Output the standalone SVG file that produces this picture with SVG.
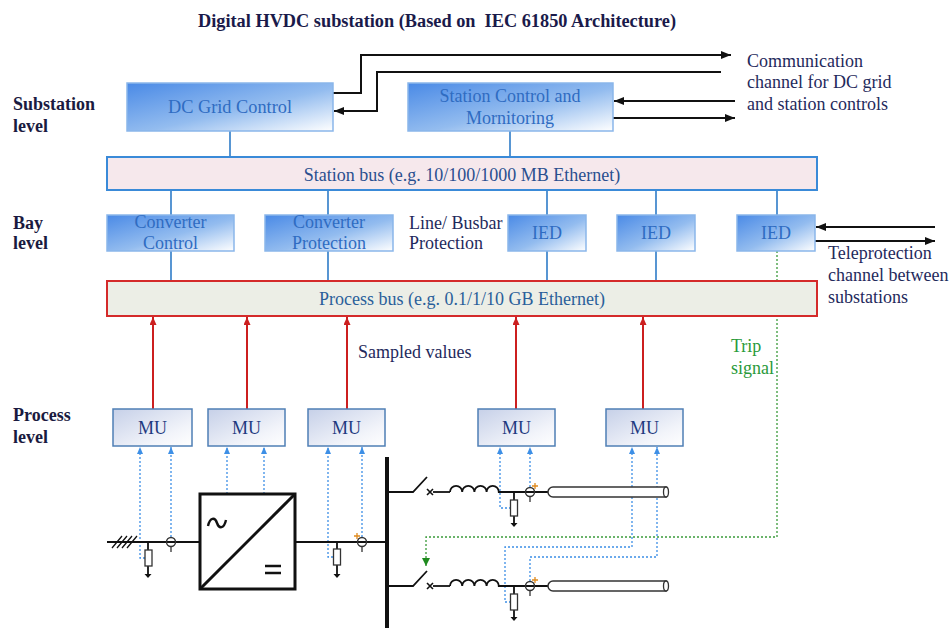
<svg xmlns="http://www.w3.org/2000/svg" width="950" height="628" viewBox="0 0 950 628">
<defs>
<linearGradient id="gBlue" x1="0" y1="0" x2="1" y2="1">
<stop offset="0" stop-color="#4a8ae6"/>
<stop offset="0.55" stop-color="#93bcef"/>
<stop offset="1" stop-color="#ffffff"/>
</linearGradient>
<linearGradient id="gMU" x1="0" y1="0" x2="1" y2="1">
<stop offset="0" stop-color="#c6d0e8"/>
<stop offset="0.7" stop-color="#f2f4fa"/>
<stop offset="1" stop-color="#ffffff"/>
</linearGradient>
<marker id="aBlack" viewBox="0 0 10 8" refX="10" refY="4" markerWidth="10" markerHeight="8" markerUnits="userSpaceOnUse" orient="auto"><path d="M0,0 L10,4 L0,8 z" fill="#111"/></marker>
<marker id="aRed" viewBox="0 0 8 7" refX="8" refY="3.5" markerWidth="8" markerHeight="7" markerUnits="userSpaceOnUse" orient="auto"><path d="M0,0 L8,3.5 L0,7 z" fill="#cc1f1f"/></marker>
<marker id="aBlue" viewBox="0 0 7 6" refX="7" refY="3" markerWidth="7" markerHeight="6" markerUnits="userSpaceOnUse" orient="auto"><path d="M0,0 L7,3 L0,6 z" fill="#3d8fe6"/></marker>
<marker id="aGreen" viewBox="0 0 8 8" refX="8" refY="4" markerWidth="8" markerHeight="8" markerUnits="userSpaceOnUse" orient="auto"><path d="M0,0 L8,4 L0,8 z" fill="#1f8a1f"/></marker>
</defs>
<style>
text{font-family:"Liberation Serif","Times New Roman",serif;font-size:18px}
.lvl{font-weight:bold;fill:#1a1a40}
.note{fill:#1f2a5c}
.bt{fill:#2f6cc2;text-anchor:middle}
.mt{fill:#1e3a80;text-anchor:middle}
.bx{fill:url(#gBlue);stroke:#8ab6ea;stroke-width:1.5}
.mu{fill:url(#gMU);stroke:#4f7fb5;stroke-width:1.5}
.bl{stroke:#2f7cc8;stroke-width:1.6;fill:none}
.rd{stroke:#cc1f1f;stroke-width:2;fill:none;marker-end:url(#aRed)}
.bd{stroke:#3d8fe6;stroke-width:1.3;stroke-dasharray:2,2;fill:none;marker-end:url(#aBlue)}
.gd{stroke:#3a9a3a;stroke-width:1.3;stroke-dasharray:2,2;fill:none}
.bk{stroke:#111;stroke-width:2;fill:none;marker-end:url(#aBlack)}
.el{stroke:#111;stroke-width:1.8;fill:none}
.rs{fill:#fff;stroke:#333;stroke-width:1.3}
.or{stroke:#e08a1e;stroke-width:1.3}
</style>
<rect width="950" height="628" fill="#fff"/>

<text x="437" y="27" text-anchor="middle" font-weight="bold" font-size="17" fill="#1a1a4a" textLength="478" lengthAdjust="spacingAndGlyphs" xml:space="preserve">Digital HVDC substation (Based on  IEC 61850 Architecture)</text>

<g id="levels">
<text class="lvl" x="13" y="110">Substation</text>
<text class="lvl" x="13" y="132">level</text>
<text class="lvl" x="13" y="229">Bay</text>
<text class="lvl" x="13" y="249">level</text>
<text class="lvl" x="13" y="421">Process</text>
<text class="lvl" x="13" y="443">level</text>
</g>

<g id="connectors">
<path class="bl" d="M230,131V157M510,131V157M171,190V215M328,190V215M547,190V215M656,190V215M777,190V215M171,251V281M328,251V281M547,251V281M656,251V281"/>
<path class="bk" d="M333,93H361V55H731"/>
<path class="bk" d="M721,72H377V111H334"/>
<path class="bk" d="M735,101H614"/>
<path class="bk" d="M613,118H735"/>
<path class="bk" d="M935,227H816"/>
<path class="bk" d="M815,241H935"/>
<path class="rd" d="M153,409V317"/>
<path class="rd" d="M247,409V317"/>
<path class="rd" d="M347,409V317"/>
<path class="rd" d="M516,409V317"/>
<path class="rd" d="M643,409V317"/>
<path class="bd" d="M145,558H140V447"/>
<path class="bd" d="M171,537V447"/>
<path class="bd" d="M227,494V447"/>
<path class="bd" d="M264,494V447"/>
<path class="bd" d="M333,557H328V447"/>
<path class="bd" d="M362,537V447"/>
<path class="bd" d="M511,508H500V447"/>
<path class="bd" d="M530,487V447"/>
<path class="bd" d="M511,602H505V547H632V447"/>
<path class="bd" d="M530,581V557H657V447"/>
<path class="gd" d="M777,251V537H426V566" marker-end="url(#aGreen)"/>
</g>

<g id="dc-grid-control">
<rect class="bx" x="127" y="83" width="206" height="48"/>
<text class="bt" x="230" y="113" textLength="124" lengthAdjust="spacingAndGlyphs">DC Grid Control</text>
</g>
<g id="station-control">
<rect class="bx" x="408" y="83" width="205" height="48"/>
<text class="bt" x="510" y="102">Station Control and</text>
<text class="bt" x="510" y="124">Mornitoring</text>
</g>
<g id="comm-label">
<text class="note" x="747" y="67">Communication</text>
<text class="note" x="747" y="88">channel for DC grid</text>
<text class="note" x="747" y="110">and station controls</text>
</g>
<g id="station-bus">
<rect x="107" y="157" width="710" height="33" fill="#f6e8ec" stroke="#3a8ad8" stroke-width="2"/>
<text x="462" y="181" text-anchor="middle" fill="#2a4f8f">Station bus (e.g. 10/100/1000 MB Ethernet)</text>
</g>
<g id="converter-control">
<rect class="bx" x="107" y="215" width="127" height="36"/>
<text class="bt" x="170.5" y="228" fill="#3f7fcf">Converter</text>
<text class="bt" x="170.5" y="249">Control</text>
</g>
<g id="converter-protection">
<rect class="bx" x="265" y="215" width="128" height="36"/>
<text class="bt" x="329" y="228">Converter</text>
<text class="bt" x="329" y="249">Protection</text>
</g>
<g id="line-busbar-label">
<text class="note" x="409" y="229">Line/ Busbar</text>
<text class="note" x="409" y="249">Protection</text>
</g>
<g id="ied1">
<rect class="bx" x="508" y="215" width="78" height="36"/>
<text class="bt" x="547" y="239">IED</text>
</g>
<g id="ied2">
<rect class="bx" x="617" y="215" width="78" height="36"/>
<text class="bt" x="656" y="239">IED</text>
</g>
<g id="ied3">
<rect class="bx" x="737" y="215" width="78" height="36"/>
<text class="bt" x="776" y="239">IED</text>
</g>
<g id="teleprotection-label">
<text class="note" x="828" y="259">Teleprotection</text>
<text class="note" x="828" y="281">channel between</text>
<text class="note" x="828" y="303">substations</text>
</g>
<g id="process-bus">
<rect x="107" y="281" width="710" height="35" fill="#eceee6" stroke="#d42a2a" stroke-width="2"/>
<text x="462" y="305" text-anchor="middle" fill="#2a5f9a">Process bus (e.g. 0.1/1/10 GB Ethernet)</text>
</g>
<g id="sampled-label"><text class="note" x="358" y="358">Sampled values</text></g>
<g id="trip-label">
<text x="731" y="352" fill="#2a9a3a">Trip</text>
<text x="731" y="374" fill="#2a9a3a">signal</text>
</g>

<g id="mu1"><rect class="mu" x="113" y="409" width="79" height="37"/><text class="mt" x="152.5" y="434">MU</text></g>
<g id="mu2"><rect class="mu" x="208" y="409" width="77" height="37"/><text class="mt" x="246.5" y="434">MU</text></g>
<g id="mu3"><rect class="mu" x="308" y="409" width="77" height="37"/><text class="mt" x="346.5" y="434">MU</text></g>
<g id="mu4"><rect class="mu" x="478" y="409" width="77" height="37"/><text class="mt" x="516.5" y="434">MU</text></g>
<g id="mu5"><rect class="mu" x="606" y="409" width="77" height="37"/><text class="mt" x="644.5" y="434">MU</text></g>

<g id="ac-side">
<path class="el" d="M107,542H200"/>
<path stroke="#111" stroke-width="1.3" d="M112,548L122,536M117,548L127,536M122,548L132,536M127,548L137,536"/>
<path class="el" stroke-width="1.3" d="M148,542V550M148,566V574"/>
<rect class="rs" x="145" y="550" width="7" height="16"/>
<polygon points="144.5,574 151.5,574 148,578" fill="#111"/>
<circle cx="171" cy="542" r="4.5" fill="none" stroke="#333" stroke-width="1.4"/>
<path stroke="#333" stroke-width="1.3" d="M171,546.5V552"/>
</g>
<g id="converter">
<rect x="200" y="494" width="95" height="95" fill="#fff" stroke="#111" stroke-width="3"/>
<path stroke="#111" stroke-width="3" d="M200,589L295,494"/>
<path fill="none" stroke="#111" stroke-width="2.4" d="M208,526c2,-9 7,-9 9,-3s7,6 9,-3"/>
<path stroke="#111" stroke-width="2.4" d="M265,566H281M265,573H281"/>
</g>
<g id="dc-side">
<path class="el" d="M295,542H387"/>
<path class="el" stroke-width="1.3" d="M337,542V549M337,565V574"/>
<rect class="rs" x="333.5" y="549" width="7" height="16"/>
<polygon points="333.5,574 340.5,574 337,578" fill="#111"/>
<circle cx="362" cy="542" r="4.5" fill="none" stroke="#333" stroke-width="1.4"/>
<path stroke="#333" stroke-width="1.3" d="M362,546.5V552"/>
<path class="or" d="M354,536H360M357,533V539"/>
</g>
<g id="busbar">
<path stroke="#111" stroke-width="4" d="M387,457V628"/>
</g>
<g id="feeder-upper">
<path class="el" d="M389,492H413L427,477"/>
<path stroke="#111" stroke-width="1.6" d="M427,489L433,495M433,489L427,495"/>
<path class="el" d="M433,492H450"/>
<path class="el" d="M450,492a6.1,6.1 0 0 1 12.2,0a6.1,6.1 0 0 1 12.2,0a6.1,6.1 0 0 1 12.2,0a6.1,6.1 0 0 1 12.2,0H548"/>
<path class="el" stroke-width="1.3" d="M514,492V500M514,516V523"/>
<rect class="rs" x="510.5" y="500" width="7" height="16"/>
<polygon points="510.5,523 517.5,523 514,527" fill="#111"/>
<circle cx="530" cy="492" r="4.5" fill="none" stroke="#333" stroke-width="1.4"/>
<path stroke="#333" stroke-width="1.3" d="M530,496.5V502"/>
<path class="or" d="M532,486H538M535,483V489"/>
<path fill="#fff" stroke="#333" stroke-width="1.5" d="M553,487H666V497H553a5,5 0 0 1 0,-10z"/>
<ellipse cx="666" cy="492" rx="2.5" ry="5" fill="#fff" stroke="#333" stroke-width="1.3"/>
</g>
<g id="feeder-lower">
<path class="el" d="M389,586H413L427,571"/>
<path stroke="#111" stroke-width="1.6" d="M427,583L433,589M433,583L427,589"/>
<path class="el" d="M433,586H450"/>
<path class="el" d="M450,586a6.1,6.1 0 0 1 12.2,0a6.1,6.1 0 0 1 12.2,0a6.1,6.1 0 0 1 12.2,0a6.1,6.1 0 0 1 12.2,0H548"/>
<path class="el" stroke-width="1.3" d="M514,586V594M514,610V617"/>
<rect class="rs" x="510.5" y="594" width="7" height="16"/>
<polygon points="510.5,617 517.5,617 514,621" fill="#111"/>
<circle cx="530" cy="586" r="4.5" fill="none" stroke="#333" stroke-width="1.4"/>
<path stroke="#333" stroke-width="1.3" d="M530,590.5V596"/>
<path class="or" d="M532,580H538M535,577V583"/>
<path fill="#fff" stroke="#333" stroke-width="1.5" d="M553,581H666V591H553a5,5 0 0 1 0,-10z"/>
<ellipse cx="666" cy="586" rx="2.5" ry="5" fill="#fff" stroke="#333" stroke-width="1.3"/>
</g>
</svg>
